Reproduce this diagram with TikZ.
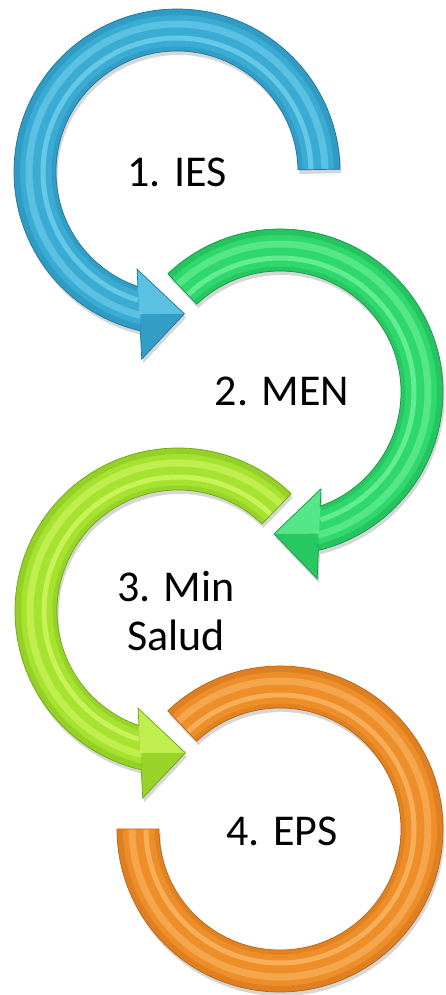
\documentclass[tikz,border=0pt]{standalone}
\usepackage{fontspec}
\setmainfont{Carlito}
\definecolor{bbase}{RGB}{58,172,212}
\definecolor{blight}{RGB}{112,208,236}
\definecolor{bdark}{RGB}{28,118,158}
\definecolor{gbase}{RGB}{46,216,108}
\definecolor{glight}{RGB}{112,240,155}
\definecolor{gdark}{RGB}{22,150,70}
\definecolor{ybase}{RGB}{166,226,48}
\definecolor{ylight}{RGB}{210,246,100}
\definecolor{ydark}{RGB}{108,168,18}
\definecolor{obase}{RGB}{238,142,40}
\definecolor{olight}{RGB}{248,182,100}
\definecolor{odark}{RGB}{188,98,18}
% #1 cx, #2 cy, #3 start angle, #4 tip angle, #5 sign, #6 base, #7 light, #8 dark
\newcommand\ringarrow[8]{%
 \begin{scope}[shift={(#1,#2)}]
  \fill[black, opacity=0.16, shift={(1.5,4)}] (#3:163) arc[start angle=#3, end angle={#4+(#5)*16.02}, radius=163] -- ({#4+(#5)*13.67}:190.4) -- (#4:142) -- ({#4+(#5)*25.35}:105.1) -- ({#4+(#5)*21.84}:121) arc[start angle={#4+(#5)*21.84}, end angle=#3, radius=121] -- cycle;
  \begin{scope}
   \clip (#3:163) arc[start angle=#3, end angle={#4+(#5)*16.02}, radius=163] -- ({#4+(#5)*13.67}:190.4) -- (#4:142) -- ({#4+(#5)*25.35}:105.1) -- ({#4+(#5)*21.84}:121) arc[start angle={#4+(#5)*21.84}, end angle=#3, radius=121] -- cycle;
   \fill[#6] (-200,-200) rectangle (200,200);
   \draw[#8, line width=6, opacity=0.3] (#3:160) arc[start angle=#3, end angle={#4+(#5)*16}, radius=160];
   \draw[#8, line width=5, opacity=0.25] (#3:123) arc[start angle=#3, end angle={#4+(#5)*22}, radius=123];
   \draw[#7, line width=7, opacity=0.6] (#3:148) arc[start angle=#3, end angle={#4+(#5)*17}, radius=148];
   \draw[#7, line width=5, opacity=0.8] (#3:134) arc[start angle=#3, end angle={#4+(#5)*20}, radius=134];
   \fill[#7, opacity=0.6] (#4:142) -- ({#4+(#5)*25.35}:105.1) -- ({#4+(#5)*17.8}:147) -- cycle;
   \fill[#8, opacity=0.25] (#4:142) -- ({#4+(#5)*13.67}:190.4) -- ({#4+(#5)*17.8}:147) -- cycle;
  \end{scope}
  \draw[#8, line width=0.7] (#3:163) arc[start angle=#3, end angle={#4+(#5)*16.02}, radius=163] -- ({#4+(#5)*13.67}:190.4) -- (#4:142) -- ({#4+(#5)*25.35}:105.1) -- ({#4+(#5)*21.84}:121) arc[start angle={#4+(#5)*21.84}, end angle=#3, radius=121] -- cycle;
 \end{scope}}
\begin{document}
\begin{tikzpicture}[x=1pt,y=-1pt,
  lbl/.style={font=\fontsize{44}{49}\selectfont, align=center, text=black, inner sep=0pt}]
\useasboundingbox (0,0) rectangle (446,995);
\fill[white] (0,0) rectangle (446,995);
% 4. orange ring (no head)
\begin{scope}[shift={(280,829)}]
  \fill[black, opacity=0.16, shift={(1.5,4)}] (-133.5:163) arc[start angle=-133.5, end angle=180, radius=163] -- (180:121) arc[start angle=180, end angle=-133.5, radius=121] -- cycle;
  \begin{scope}
   \clip (-133.5:163) arc[start angle=-133.5, end angle=180, radius=163] -- (180:121) arc[start angle=180, end angle=-133.5, radius=121] -- cycle;
   \fill[obase] (-200,-200) rectangle (200,200);
   \draw[odark, line width=6, opacity=0.3] (-133.5:160) arc[start angle=-133.5, end angle=180, radius=160];
   \draw[odark, line width=5, opacity=0.25] (-133.5:123) arc[start angle=-133.5, end angle=180, radius=123];
   \draw[olight, line width=7, opacity=0.6] (-133.5:148) arc[start angle=-133.5, end angle=180, radius=148];
   \draw[olight, line width=5, opacity=0.8] (-133.5:134) arc[start angle=-133.5, end angle=180, radius=134];
  \end{scope}
  \draw[odark, line width=0.7] (-133.5:163) arc[start angle=-133.5, end angle=180, radius=163] -- (180:121) arc[start angle=180, end angle=-133.5, radius=121] -- cycle;
\end{scope}
% 3. yellow-green
\ringarrow{178}{611}{-46}{-273}{1}{ybase}{ylight}{ydark}
% 2. green
\ringarrow{280}{392}{-133.5}{92.4}{-1}{gbase}{glight}{gdark}
% 1. blue
\ringarrow{177}{172}{-1}{-273}{1}{bbase}{blight}{bdark}
\node[lbl] (t1) at (177,172) {1. IES};
\node[lbl] (t2) at (282,391) {2. MEN};
\node[lbl] (t3) at (176,611) {3. Min\\Salud};
\node[lbl] (t4) at (282,831) {4. EPS};
\end{tikzpicture}
\end{document}
